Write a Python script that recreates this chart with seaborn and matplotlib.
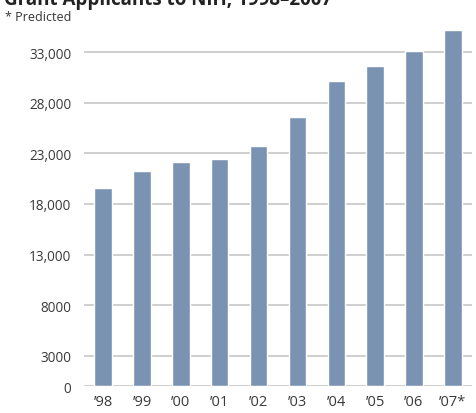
import matplotlib
matplotlib.use("Agg")
import matplotlib.pyplot as plt
import seaborn as sns
import pandas as pd
from matplotlib.ticker import FuncFormatter

years = ["\u201998", "\u201999", "\u201900", "\u201901", "\u201902",
         "\u201903", "\u201904", "\u201905", "\u201906", "\u201907*"]
applicants = [19560, 21280, 22140, 22470, 23750, 26560, 30190, 31670, 33160, 35240]
yticks = [0, 3000, 8000, 13000, 18000, 23000, 28000, 33000]

df = pd.DataFrame({"year": years, "applicants": applicants})

sns.set_style("white")
plt.rcParams["font.family"] = ["Open Sans", "DejaVu Sans"]

fig = plt.figure(figsize=(4.76, 4.14), dpi=100)
ax = fig.add_axes([0.176, 0.065, 0.816, 0.875])

sns.barplot(data=df, x="year", y="applicants", color="#7a93b3",
            width=0.45, saturation=1, ax=ax, zorder=3)

ax.set_ylim(0, 35800)
ax.set_xlim(-0.5, 9.5)
ax.set_yticks(yticks)
ax.yaxis.set_major_formatter(FuncFormatter(
    lambda v, p: f"{int(v):,}" if v >= 10000 else f"{int(v)}"))
for y in yticks:
    ax.axhline(y, color="#cfcfcf", lw=1.4, zorder=1)

for s in ax.spines.values():
    s.set_visible(False)
ax.tick_params(axis="both", length=0, labelsize=9.8, colors="#3a3a3a")
ax.tick_params(axis="x", labelsize=10.5, pad=6)
ax.tick_params(axis="y", pad=9)
ax.set_xlabel("")
ax.set_ylabel("")

fig.text(0.008, 1.0, "Grant Applicants to NIH, 1998\u20132007", fontsize=13.5,
         fontweight="bold", color="#222222", va="center", ha="left")
fig.text(0.01, 0.958, "* Predicted", fontsize=9, color="#333333",
         va="center", ha="left")

fig.savefig("out.png", dpi=100)
